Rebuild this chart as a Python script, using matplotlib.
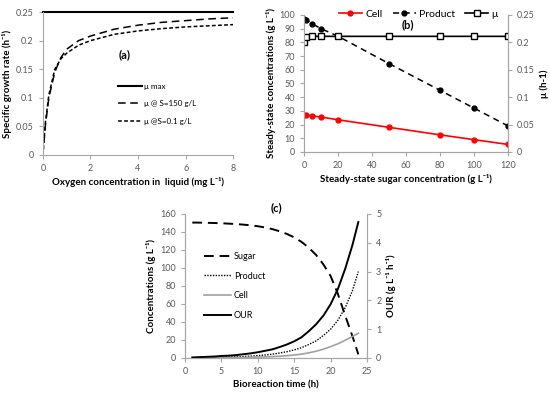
import matplotlib
matplotlib.use("Agg")
import matplotlib.pyplot as plt

plt.rcParams['font.family'] = ['Lato', 'DejaVu Sans']

# ---- panel (a): growth rate vs oxygen
oxygen = [0, 0.1, 0.25, 0.5, 0.75, 1, 1.5, 2, 3, 4, 5, 6, 7, 8]
mu_max = [0.25] * len(oxygen)
mu_s150 = [0, 0.05, 0.1, 0.145, 0.17, 0.185, 0.2, 0.208, 0.22, 0.227, 0.232, 0.235, 0.238, 0.24]
mu_s01 = [0, 0.055, 0.105, 0.15, 0.168, 0.178, 0.192, 0.2, 0.211, 0.217, 0.221, 0.224, 0.226, 0.228]

# ---- panel (b): steady state
sugar_ss = [0, 1, 5, 10, 20, 50, 80, 100, 120]
product_ss = [97, 96.5, 93.5, 90, 84.5, 64.5, 45, 32, 19]
cell_ss = [27, 27, 26.3, 25.5, 23.5, 18, 12.5, 9, 5.5]
mu_ss = [0.201, 0.21, 0.211, 0.211, 0.211, 0.211, 0.211, 0.211, 0.211]

# ---- panel (c): batch time course
time = [1, 2, 3, 4, 5, 6, 7, 8, 9, 10, 11, 12, 13, 14, 15, 16, 17, 18, 19, 20, 21, 22, 23, 23.8]
sugar = [150.5, 150.4, 150.2, 150, 149.7, 149.3, 148.8, 148.2, 147.4, 146.4, 145, 143.2,
         140.8, 137.8, 134, 129, 122.5, 114.5, 104, 91, 71, 47, 24, 4]
product = [0.3, 0.4, 0.5, 0.7, 0.9, 1.1, 1.4, 1.7, 2.1, 2.6, 3.3, 4.2,
           5.5, 7, 9, 11.5, 15, 19, 25, 32, 42, 56, 75, 96]
cell = [0.1, 0.15, 0.2, 0.25, 0.3, 0.4, 0.5, 0.6, 0.8, 1, 1.2, 1.5,
        2, 2.5, 3.3, 4.3, 5.7, 7.5, 9.8, 12.6, 15.8, 19.7, 24, 27.5]
our = [0.02, 0.03, 0.04, 0.05, 0.07, 0.08, 0.1, 0.13, 0.16, 0.2, 0.25, 0.3,
       0.38, 0.47, 0.58, 0.72, 0.93, 1.17, 1.47, 1.87, 2.4, 3.1, 3.93, 4.72]

GRAY = '#595959'
SPINE = '#a6a6a6'
TFS = 6.5
LFS = 7


def style(ax, hide=('top', 'right')):
    for s in hide:
        ax.spines[s].set_visible(False)
    for s in ax.spines.values():
        s.set_color(SPINE)
        s.set_linewidth(0.8)
    ax.tick_params(labelsize=TFS, colors=SPINE, labelcolor=GRAY, length=3, width=0.8)


fig = plt.figure(figsize=(5.5, 3.96), dpi=100)

# (a)
ax = fig.add_axes([0.078, 0.6086, 0.346, 0.361])
ax.plot(oxygen, mu_max, color='black', lw=1.5, label='μ max', clip_on=False)
ax.plot(oxygen, mu_s150, color='black', lw=1.1, ls=(0, (5, 3)), label='μ @ S=150 g/L')
ax.plot(oxygen, mu_s01, color='black', lw=1.1, ls=(0, (2.5, 1.5)), label='μ @S=0.1 g/L')
ax.set_xlim(0, 8)
ax.set_ylim(0, 0.25)
ax.set_xticks([0, 2, 4, 6, 8])
ax.set_yticks([0, 0.05, 0.1, 0.15, 0.2, 0.25])
ax.set_yticklabels(['0', '0.05', '0.1', '0.15', '0.2', '0.25'])
style(ax)
ax.set_xlabel('Oxygen concentration in  liquid (mg L⁻¹)', fontsize=LFS, fontweight='bold', labelpad=3)
ax.set_ylabel('Specific growth rate (h⁻¹)', fontsize=LFS, fontweight='bold', labelpad=3)
ax.text(0.43, 0.68, '(a)', transform=ax.transAxes, fontsize=8, fontweight='bold', ha='center')
ax.legend(loc='center', bbox_to_anchor=(0.6, 0.36), frameon=False, fontsize=5.8,
          handlelength=3, labelspacing=1.3, handletextpad=0.3)

# (b)
ax = fig.add_axes([0.5527, 0.6162, 0.371, 0.346])
l1, = ax.plot(sugar_ss, cell_ss, color='red', lw=1.2, marker='o', ms=3.5, label='Cell')
l2, = ax.plot(sugar_ss, product_ss, color='black', lw=1.1, ls=(0, (4, 3)), marker='o', ms=3.5,
              label='Product')
ax.set_xlim(0, 120)
ax.set_ylim(0, 100)
ax.set_xticks(range(0, 121, 20))
ax.set_yticks(range(0, 101, 10))
style(ax, hide=('top',))
ax.set_xlabel('Steady-state sugar concentration (g L⁻¹)', fontsize=LFS, fontweight='bold', labelpad=3)
ax.set_ylabel('Steady-state concentrations (g L⁻¹)', fontsize=LFS, fontweight='bold', labelpad=2)
ax.text(0.51, 0.9, '(b)', transform=ax.transAxes, fontsize=8, fontweight='bold', ha='center')
ax2 = ax.twinx()
l3, = ax2.plot(sugar_ss, mu_ss, color='black', lw=1.2, marker='s', ms=4, mfc='white', label='μ')
ax2.set_ylim(0, 0.25)
ax2.set_yticks([0, 0.05, 0.1, 0.15, 0.2, 0.25])
ax2.set_yticklabels(['0', '0.05', '0.1', '0.15', '0.2', '0.25'])
style(ax2, hide=('top',))
ax2.set_ylabel('μ (h-1)', fontsize=LFS, fontweight='bold', labelpad=3)
ax.legend(handles=[l1, l2, l3], loc='lower center', bbox_to_anchor=(0.56, 0.94), ncol=3,
          frameon=False, fontsize=7.5, handlelength=2.2, columnspacing=1.0, handletextpad=0.3,
          borderaxespad=0)

# (c)
ax = fig.add_axes([0.3364, 0.096, 0.331, 0.3636])
h1, = ax.plot(time, sugar, color='black', lw=1.4, ls=(0, (5, 3)), label='Sugar')
h2, = ax.plot(time, product, color='black', lw=1.0, ls=(0, (1, 1)), label='Product')
h3, = ax.plot(time, cell, color='#a0a0a0', lw=1.2, label='Cell')
ax.set_xlim(0, 25)
ax.set_ylim(0, 160)
ax.set_xticks(range(0, 26, 5))
ax.set_yticks(range(0, 161, 20))
style(ax, hide=('top',))
ax.set_xlabel('Bioreaction time (h)', fontsize=LFS, fontweight='bold', labelpad=3)
ax.set_ylabel('Concentrations (g L⁻¹)', fontsize=LFS, fontweight='bold', labelpad=3)
ax.text(0.5, 1.02, '(c)', transform=ax.transAxes, fontsize=8, fontweight='bold', ha='center')
ax2 = ax.twinx()
h4, = ax2.plot(time, our, color='black', lw=1.4, label='OUR')
ax2.set_ylim(0, 5)
ax2.set_yticks(range(0, 6))
style(ax2, hide=('top',))
ax2.set_ylabel('OUR (g L⁻¹ h⁻¹)', fontsize=LFS, fontweight='bold', labelpad=3)
ax2.legend(handles=[h1, h2, h3, h4], loc='center left', bbox_to_anchor=(0.06, 0.5),
           frameon=False, fontsize=6.5, handlelength=3, labelspacing=1.2, handletextpad=0.3)

fig.savefig('out.png', dpi=100)
